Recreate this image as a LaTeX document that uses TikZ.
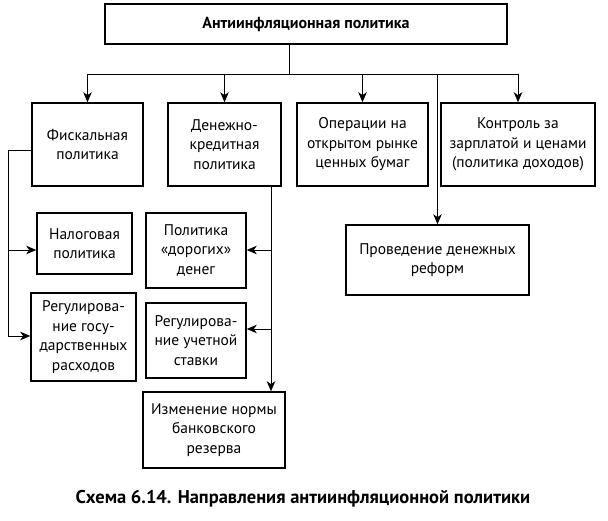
\documentclass[tikz,border=0pt]{standalone}
\usepackage{fontspec}
\setmainfont{PT Sans}
\usetikzlibrary{arrows.meta}
\tikzset{
  box/.style={draw, line width=1.6pt, align=center, inner sep=0pt, font=\fontsize{15.5}{19.5}\selectfont},
  link/.style={line width=0.8pt},
  arr/.style={link, -{Stealth[length=10pt,width=8.5pt,inset=3pt]}}
}
\begin{document}
\begin{tikzpicture}[x=1pt,y=-1pt]
  \useasboundingbox (0,0) rectangle (608,521);
  \node[box, minimum width=402pt, minimum height=40pt, font=\bfseries\fontsize{16}{19.5}\selectfont] (top) at (306,24) {Антиинфляционная политика};
  \node[box, minimum width=111pt, minimum height=83pt] (fisc) at (87.5,144.5) {Фискальная\\политика};
  \node[box, minimum width=113pt, minimum height=83pt] (dkp) at (224.5,144.5) {Денежно-\\кредитная\\политика};
  \node[box, minimum width=131pt, minimum height=83pt] (oper) at (362.5,144.5) {Операции на\\открытом рынке\\ценных бумаг};
  \node[box, minimum width=154pt, minimum height=83pt] (kontr) at (518,144.5) {Контроль за\\зарплатой и ценами\\(политика доходов)};
  \node[box, minimum width=183pt, minimum height=70pt] (reform) at (437.5,260) {Проведение денежных\\реформ};
  \node[box, minimum width=95pt, minimum height=61pt] (nalog) at (84.5,243.5) {Налоговая\\политика};
  \node[box, minimum width=105pt, minimum height=88pt] (rashod) at (83.5,337) {Регулирова-\\ние госу-\\дарственных\\расходов};
  \node[box, minimum width=100pt, minimum height=75pt] (dorog) at (196,250.5) {Политика\\«дорогих»\\денег};
  \node[box, minimum width=100pt, minimum height=75pt] (stavka) at (196,340.5) {Регулирова-\\ние учетной\\ставки};
  \node[box, minimum width=142pt, minimum height=76pt] (norma) at (214,430) {Изменение нормы\\банковского\\резерва};
  \node[font=\bfseries\fontsize{18.5}{20}\selectfont] (cap) at (303,499) {Схема 6.14. Направления антиинфляционной политики};
  \coordinate (tb) at (289,74);
  \coordinate (lb) at (8,150);
  \coordinate (l1) at (8,250);
  \coordinate (l2) at (8,336);
  \coordinate (rb) at (271,0);
  \coordinate (r1) at (271,250);
  \coordinate (r2) at (271,329);
  \draw[link] (tb |- top.south) -- (tb);
  \draw[link] (fisc.north |- tb) -- (kontr.north |- tb);
  \foreach \n in {fisc,dkp,oper,kontr,reform}
    \draw[arr] (\n.north |- tb) -- (\n.north);
  \draw[link] (fisc.west |- lb) -- (lb) -- (l2);
  \draw[arr] (l1) -- (l1 -| nalog.west);
  \draw[arr] (l2) -- (l2 -| rashod.west);
  \draw[arr] (rb |- dkp.south) -- (rb |- norma.north);
  \draw[arr] (r1) -- (r1 -| dorog.east);
  \draw[arr] (r2) -- (r2 -| stavka.east);
\end{tikzpicture}
\end{document}
